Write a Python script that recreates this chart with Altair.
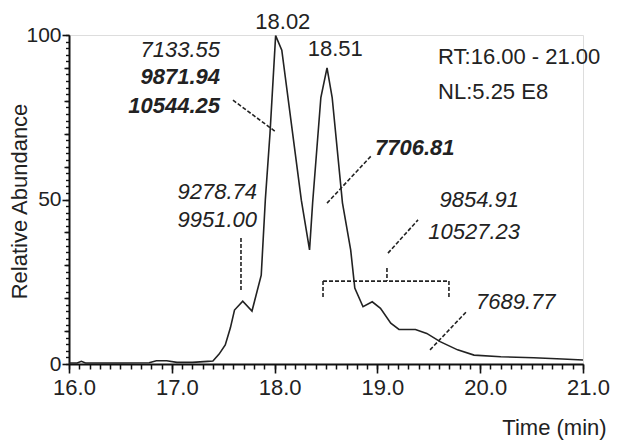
import altair as alt
import pandas as pd

# chromatogram trace (time in min, relative abundance %)
time = [16.0, 16.08, 16.12, 16.16, 16.5, 16.78, 16.85, 16.95, 17.05, 17.2, 17.35, 17.40,
        17.46, 17.52, 17.57, 17.61, 17.69, 17.78, 17.87, 17.91, 17.955, 18.01, 18.07,
        18.26, 18.34, 18.37, 18.45, 18.51, 18.56, 18.66, 18.74, 18.78, 18.86, 18.95,
        19.03, 19.13, 19.21, 19.37, 19.48, 19.61, 19.78, 19.94, 20.2, 20.52, 20.8, 21.0]
abund = [0.3, 0.3, 0.8, 0.3, 0.3, 0.4, 1.0, 1.0, 0.5, 0.5, 0.8, 0.9,
         3.0, 5.8, 11.0, 16.4, 19.1, 16.1, 27.0, 50.0, 70.0, 99.8, 95.4,
         49.8, 34.7, 49.0, 81.0, 90.0, 81.0, 49.0, 34.7, 23.1, 17.4, 18.9,
         16.9, 12.4, 10.5, 10.5, 9.3, 6.8, 4.3, 2.7, 2.2, 1.9, 1.5, 1.2]

# annotation texts
peak_text = ["18.02", "18.51"]
peak_x = [18.08, 18.59]
peak_y = [104.1, 95.6]

info_text = ["RT:16.00 - 21.00", "NL:5.25 E8"]
info_x = [19.59, 19.59]
info_y = [93.3, 82.7]

ri_text = ["7133.55", "9278.74", "9951.00", "9854.91", "10527.23"]   # right, italic
ri_x = [17.469, 17.829, 17.829, 20.377, 20.387]
ri_y = [95.4, 52.3, 43.8, 49.8, 40.1]

rib_text = ["9871.94", "10544.25"]   # right, bold italic
rib_x = [17.469, 17.469]
rib_y = [87.2, 78.4]

lib_text = ["7706.81"]   # left, bold italic
lib_x = [18.977]
lib_y = [65.7]

li_text = ["7689.77"]   # left, italic
li_x = [19.959]
li_y = [18.8]

# dashed leader lines (x, y, x2, y2)
seg_x = [17.595, 17.673, 18.51, 19.103, 19.093, 18.471, 18.471, 19.696, 19.512]
seg_y = [80.2, 38.3, 48.9, 33.7, 29.2, 25.2, 25.2, 25.2, 4.3]
seg_x2 = [18.014, 17.673, 18.947, 19.395, 19.093, 19.696, 18.471, 19.696, 19.872]
seg_y2 = [70.5, 22.5, 63.5, 43.8, 25.2, 25.2, 20.4, 20.4, 16.1]

# axis ticks
x_major = [16.0, 17.0, 18.0, 19.0, 20.0, 21.0]
x_minor = [round(16.0 + i * 0.1, 1) for i in range(51)]
y_major = [0, 50, 100]
y_mid = [10, 20, 30, 40, 60, 70, 80, 90]
y_minor = list(range(0, 101, 2))

FONT = "Liberation Sans"
FS = 22
INK = "#222222"
W, H = 514, 329

xs = alt.Scale(domain=[16.0, 21.0], nice=False, zero=False)
ys = alt.Scale(domain=[0, 100], nice=False)

# main axes: labelled, long ticks
X_MAIN = alt.Axis(
    orient="bottom", values=x_major, title=None, grid=False, domainColor="#111", domainWidth=2,
    tickColor="#111", tickWidth=1.6, tickSize=9, format=".1f",
    labelFont=FONT, labelFontSize=22, labelColor=INK, labelPadding=4, labelOffset=5,
    labelFlush=False, labelOverlap=False)
Y_MAIN = alt.Axis(
    orient="left", values=y_major, title="Relative Abundance", grid=False,
    domainColor="#111", domainWidth=2,
    tickColor="#111", tickWidth=1.6, tickSize=7,
    labelFont=FONT, labelFontSize=21, labelColor=INK, labelPadding=1,
    labelFlush=False, labelOverlap=False,
    titleFont=FONT, titleFontSize=FS, titleFontWeight="normal", titleColor=INK,
    titleX=-50, titleY=166, titleAngle=270, titleAlign="center", titleBaseline="middle")

# minor tick axes (no labels, no domain) drawn over the same scales
X_MINOR = alt.Axis(orient="bottom", values=x_minor, title=None, grid=False, domain=False,
                   labels=False, tickColor="#111", tickWidth=1.5, tickSize=5)
Y_MINOR = alt.Axis(orient="left", values=y_minor, title=None, grid=False, domain=False,
                   labels=False, tickColor="#111", tickWidth=1.4, tickSize=3.5)
Y_MID = alt.Axis(orient="left", values=y_mid, title=None, grid=False, domain=False,
                 labels=False, tickColor="#111", tickWidth=1.5, tickSize=5)

trace = pd.DataFrame({"t": time, "a": abund})
line = alt.Chart(trace).mark_line(color=INK, strokeWidth=1.6).encode(
    x=alt.X("t:Q", scale=xs, axis=X_MAIN), y=alt.Y("a:Q", scale=ys, axis=Y_MAIN))

minor = alt.Chart(trace).mark_point(opacity=0).encode(
    x=alt.X("t:Q", scale=xs, axis=X_MINOR), y=alt.Y("a:Q", scale=ys, axis=Y_MINOR))

mid = alt.Chart(trace).mark_point(opacity=0).encode(
    x=alt.X("t:Q", scale=xs, axis=None), y=alt.Y("a:Q", scale=ys, axis=Y_MID))


def texts(tx, xx, yy, align, style="normal", weight="normal", size=FS):
    df = pd.DataFrame({"t": xx, "a": yy, "s": tx})
    return alt.Chart(df).mark_text(
        align=align, baseline="middle", font=FONT, fontSize=size, color=INK,
        fontStyle=style, fontWeight=weight,
    ).encode(x=alt.X("t:Q", scale=xs, axis=None), y=alt.Y("a:Q", scale=ys, axis=None),
             text="s:N")


segs = pd.DataFrame({"x": seg_x, "y": seg_y, "x2": seg_x2, "y2": seg_y2})
rules = alt.Chart(segs).mark_rule(color=INK, strokeWidth=1.6, strokeDash=[4, 2]).encode(
    x=alt.X("x:Q", scale=xs, axis=None), y=alt.Y("y:Q", scale=ys, axis=None),
    x2="x2:Q", y2="y2:Q")

chart = alt.layer(
    line,
    minor,
    mid,
    rules,
    texts(peak_text, peak_x, peak_y, "center"),
    texts(info_text, info_x, info_y, "left"),
    texts(ri_text, ri_x, ri_y, "right", "italic"),
    texts(rib_text, rib_x, rib_y, "right", "italic", "bold"),
    texts(lib_text, lib_x, lib_y, "left", "italic", "bold"),
    texts(li_text, li_x, li_y, "left", "italic"),
    texts(["Time (min)"], [21.23], [-19.6], "right"),
).resolve_axis(x="independent", y="independent").properties(
    width=W, height=H,
    autosize=alt.AutoSizeParams(type="none"),
    padding={"left": 61, "top": 27, "right": 27, "bottom": 78},
).configure_view(stroke=None).configure(background="white")

chart.save("out.html", embed_options={"renderer": "svg", "actions": False})
